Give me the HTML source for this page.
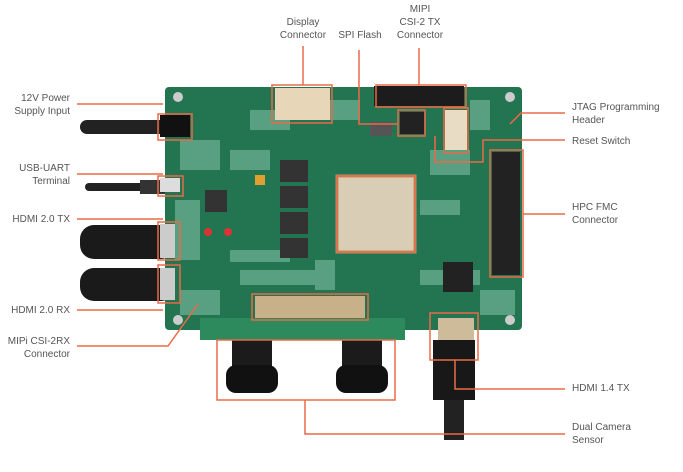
<!DOCTYPE html>
<html><head><style>
body{margin:0;width:683px;height:472px;background:#fff;overflow:hidden;position:relative;font-family:"Liberation Sans",sans-serif;}
.t{position:absolute;font-size:10px;line-height:13px;color:#555;}
.r{text-align:right}
.c{text-align:center}
</style></head><body>
<svg width="683" height="472" style="position:absolute;left:0;top:0">
<rect x="80" y="120" width="90" height="14" rx="7" fill="#222"/>
<rect x="85" y="183" width="85" height="8" rx="4" fill="#222"/>
<rect x="140" y="180" width="25" height="14" fill="#333"/>
<rect x="80" y="225" width="95" height="34" rx="14" fill="#1a1a1a"/>
<rect x="80" y="268" width="95" height="33" rx="14" fill="#1a1a1a"/>
<rect x="165" y="87" width="357" height="243" rx="4" fill="#237552"/>
<g fill="#86c2aa" opacity="0.55">
<rect x="180" y="140" width="40" height="30"/><rect x="230" y="250" width="60" height="12"/><rect x="420" y="270" width="60" height="15"/><rect x="250" y="110" width="40" height="20"/><rect x="430" y="150" width="40" height="25"/>
<rect x="175" y="200" width="25" height="60"/><rect x="320" y="100" width="40" height="20"/><rect x="230" y="150" width="40" height="20"/><rect x="240" y="270" width="80" height="15"/><rect x="315" y="260" width="20" height="30"/><rect x="470" y="100" width="20" height="30"/><rect x="420" y="200" width="40" height="15"/><rect x="480" y="290" width="35" height="25"/><rect x="180" y="290" width="40" height="25"/>
</g>
<rect x="275" y="88" width="55" height="32" fill="#e7d6b8"/>
<rect x="374" y="86" width="90" height="20" fill="#1c1c1c"/>
<rect x="400" y="112" width="24" height="22" fill="#222"/>
<rect x="445" y="110" width="22" height="40" fill="#e8dcc4"/>
<rect x="370" y="122" width="22" height="14" fill="#555"/>
<rect x="337" y="176" width="78" height="76" fill="#d9cdb6" stroke="#b89468" stroke-width="3"/>
<rect x="280" y="160" width="28" height="22" fill="#333"/><rect x="280" y="186" width="28" height="22" fill="#333"/><rect x="280" y="212" width="28" height="22" fill="#333"/><rect x="280" y="238" width="28" height="20" fill="#333"/>
<rect x="205" y="190" width="22" height="22" fill="#333"/>
<rect x="443" y="262" width="30" height="30" fill="#222"/>
<rect x="492" y="152" width="28" height="123" fill="#222"/>
<rect x="160" y="224" width="15" height="34" fill="#ccc"/><rect x="160" y="268" width="15" height="32" fill="#ccc"/>
<rect x="160" y="115" width="30" height="22" fill="#111"/>
<rect x="160" y="178" width="20" height="14" fill="#ddd"/>
<circle cx="208" cy="232" r="4" fill="#d33"/><circle cx="228" cy="232" r="4" fill="#d33"/>
<rect x="255" y="175" width="10" height="10" fill="#e0a030"/>
<g fill="#ccc"><circle cx="178" cy="97" r="5"/><circle cx="510" cy="97" r="5"/><circle cx="178" cy="320" r="5"/><circle cx="510" cy="320" r="5"/></g>
<rect x="255" y="296" width="110" height="22" fill="#c8b089"/>
<rect x="200" y="318" width="205" height="22" fill="#2c8a5c"/>
<rect x="232" y="340" width="40" height="30" fill="#1b1b1b"/><rect x="226" y="365" width="52" height="28" rx="10" fill="#111"/>
<rect x="342" y="340" width="40" height="30" fill="#1b1b1b"/><rect x="336" y="365" width="52" height="28" rx="10" fill="#111"/>
<rect x="438" y="318" width="36" height="22" fill="#cdbb99"/>
<rect x="433" y="340" width="42" height="60" fill="#181818"/>
<rect x="444" y="400" width="20" height="40" fill="#222"/>
<g stroke="#ea6a46" stroke-width="1.5" fill="none">
<line x1="77" y1="104" x2="163" y2="104"/>
<rect x="158" y="114" width="34" height="26"/>
<line x1="77" y1="174" x2="163" y2="174"/>
<rect x="158" y="176" width="25" height="20"/>
<line x1="77" y1="219" x2="163" y2="219"/>
<rect x="158" y="222" width="22" height="38"/>
<rect x="158" y="265" width="22" height="38"/>
<line x1="77" y1="310" x2="163" y2="310"/>
<polyline points="77,346 168,346 198,304"/>
<line x1="303" y1="46" x2="303" y2="85"/>
<rect x="272" y="85" width="60" height="38"/>
<polyline points="359,50 359,124 398,124"/>
<rect x="398" y="110" width="27" height="26"/>
<line x1="419" y1="48" x2="419" y2="85"/>
<rect x="376" y="85" width="90" height="22"/>
<rect x="444" y="108" width="24" height="45"/>
<polyline points="565,113 521,113 510,124"/>
<polyline points="565,140 483,140 483,162 435,162 435,136"/>
<rect x="490" y="150" width="33" height="127"/>
<line x1="523" y1="214" x2="565" y2="214"/>
<rect x="337" y="176" width="78" height="76"/>
<rect x="252" y="294" width="116" height="26"/>
<rect x="430" y="313" width="48" height="47"/>
<polyline points="455,360 455,389 565,389"/>
<rect x="217" y="340" width="178" height="60"/>
<polyline points="305,400 305,434 565,434"/>
</g>
</svg>
<div class="t r" style="left:0;width:70px;top:92px">12V Power<br>Supply Input</div>
<div class="t r" style="left:0;width:70px;top:162px">USB-UART<br>Terminal</div>
<div class="t r" style="left:0;width:70px;top:213px">HDMI 2.0 TX</div>
<div class="t r" style="left:0;width:70px;top:304px">HDMI 2.0 RX</div>
<div class="t r" style="left:0;width:70px;top:335px">MIPi CSI-2RX<br>Connector</div>
<div class="t c" style="left:263px;width:80px;top:16px">Display<br>Connector</div>
<div class="t c" style="left:330px;width:60px;top:29px">SPI Flash</div>
<div class="t c" style="left:380px;width:80px;top:3px">MIPI<br>CSI-2 TX<br>Connector</div>
<div class="t" style="left:572px;top:101px">JTAG Programming<br>Header</div>
<div class="t" style="left:572px;top:135px">Reset Switch</div>
<div class="t" style="left:572px;top:201px">HPC FMC<br>Connector</div>
<div class="t" style="left:572px;top:382px">HDMI 1.4 TX</div>
<div class="t" style="left:572px;top:421px">Dual Camera<br>Sensor</div>
</body></html>
